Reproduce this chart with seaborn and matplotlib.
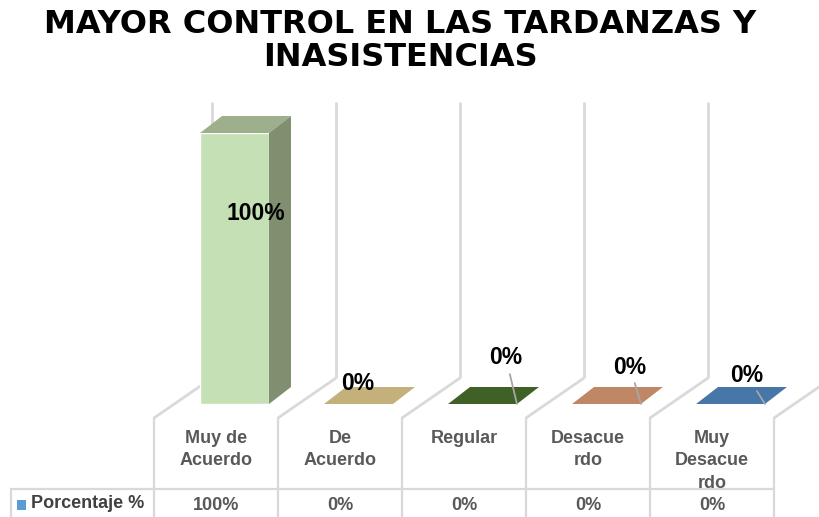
import matplotlib
matplotlib.use("Agg")
import matplotlib.pyplot as plt
import seaborn as sns
import pandas as pd
from matplotlib.patches import Polygon, Rectangle

# ---------------- data ----------------
categories = ["Muy de\nAcuerdo", "De\nAcuerdo", "Regular", "Desacue\nrdo", "Muy\nDesacue\nrdo"]
values = [100, 0, 0, 0, 0]
value_labels = ["100%", "0%", "0%", "0%", "0%"]
series_name = "Porcentaje %"
title = "MAYOR CONTROL EN LAS TARDANZAS Y\nINASISTENCIAS"

# ---------------- styles ----------------
front_colors = ["#C5E0B4", "#C4B07A", "#3F6127", "#BF8766", "#4677A8"]
top_colors = ["#9DB08B", "#C4B07A", "#3F6127", "#BF8766", "#4677A8"]
side_colors = ["#7F8F70", "#9C8C5F", "#2F4A1D", "#9A6B50", "#355C85"]
# label offsets (pixels) from each bar's right/top front corner, and whether a leader is drawn
label_offsets = [(-13, -81), (-35, 21), (-11, 46), (-11, 37), (-18, 29)]
label_leader = [False, False, True, True, True]

sns.set_theme(style="white")
plt.rcParams['font.family'] = ['Liberation Sans', 'DejaVu Sans']

W, H = 820, 517
fig = plt.figure(figsize=(W / 100, H / 100), dpi=100)
fig.patch.set_facecolor("white")

bg = fig.add_axes([0, 0, 1, 1], zorder=0)
bg.set_xlim(0, W)
bg.set_ylim(H, 0)
bg.axis("off")

ax = fig.add_axes([172.5 / W, (H - 404) / H, 620 / W, 271 / H], zorder=1)
ax.patch.set_alpha(0)

df = pd.DataFrame({"cat": categories, "val": values})
sns.barplot(data=df, x="cat", y="val", hue="cat", palette=front_colors,
            saturation=1, width=0.556, legend=False, ax=ax, zorder=3)
ax.set_xlim(-0.5, 4.5)
ax.set_ylim(0, 100)
ax.axis("off")

fig.canvas.draw()


def to_px(x, y=0):
    dx, dy = ax.transData.transform((x, y))
    return dx, H - dy


# depth of the 3D effect (in pixels) converted to data units
px_per_x = to_px(1)[0] - to_px(0)[0]
px_per_y = to_px(0, 0)[1] - to_px(0, 1)[1]
depth_x = 22 / px_per_x
depth_y = 17 / px_per_y

patches = sorted(ax.patches, key=lambda p: p.get_x())
for i, p in enumerate(patches):
    x0, w, h = p.get_x(), p.get_width(), p.get_height()
    top = Polygon([(x0, h), (x0 + w, h), (x0 + w + depth_x, h + depth_y), (x0 + depth_x, h + depth_y)],
                  closed=True, facecolor=top_colors[i], edgecolor="none", clip_on=False, zorder=4)
    ax.add_patch(top)
    if h > 0:
        side = Polygon([(x0 + w, 0), (x0 + w + depth_x, depth_y), (x0 + w + depth_x, h + depth_y), (x0 + w, h)],
                       closed=True, facecolor=side_colors[i], edgecolor="none", clip_on=False, zorder=4)
        ax.add_patch(side)
    ox, oy = label_offsets[i]
    ax.annotate(value_labels[i], xy=(x0 + w, h), xytext=(ox, oy), textcoords="offset pixels",
                ha="center", va="center", fontsize=16.5, fontweight="bold", color="black",
                annotation_clip=False, zorder=6,
                arrowprops=(dict(arrowstyle="-", color="#A6A6A6", lw=1.3, shrinkA=1, shrinkB=0)
                            if label_leader[i] else None))

# ---------------- back wall / floor grid ----------------
shift = 18.5 / px_per_x
n = len(categories)
bounds = [to_px(k - 0.5 - shift)[0] for k in range(n + 1)]
centers = [to_px(k - shift)[0] for k in range(n)]
grid_c = "#D9D9D9"
wall_top, wall_bot, floor_front, wall_dx = 102, 378, 418, 58
for b in bounds:
    bg.plot([b + wall_dx, b + wall_dx], [wall_top, wall_bot], color=grid_c, lw=2, solid_capstyle="butt")
    bg.plot([b + wall_dx, b], [wall_bot, floor_front], color=grid_c, lw=2, solid_capstyle="butt")

# ---------------- data table ----------------
row_top = 489
left_x = 11
for b in bounds:
    bg.plot([b, b], [floor_front, H], color=grid_c, lw=1.6)
bg.plot([left_x, bounds[-1]], [row_top, row_top], color=grid_c, lw=1.6)
bg.plot([left_x, left_x], [row_top, H], color=grid_c, lw=1.6)

for c, cat, lab in zip(centers, categories, value_labels):
    bg.text(c, 430, cat, ha="center", va="top", fontsize=13, fontweight="bold",
            color="#595959", linespacing=1.42)
    bg.text(c, 505, lab, ha="center", va="center", fontsize=13, fontweight="bold", color="#595959")

bg.add_patch(Rectangle((17, 500), 9, 10, facecolor="#5B9BD5", edgecolor="none"))
bg.text(31, 504, series_name, ha="left", va="center", fontsize=13, fontweight="bold", color="#404040")

# ---------------- title ----------------
bg.text(400, 41, title, ha="center", va="center", fontsize=23, fontweight="bold",
        color="black", linespacing=1.12, family=["DejaVu Sans"])

fig.savefig("out.png", dpi=100, facecolor="white")
